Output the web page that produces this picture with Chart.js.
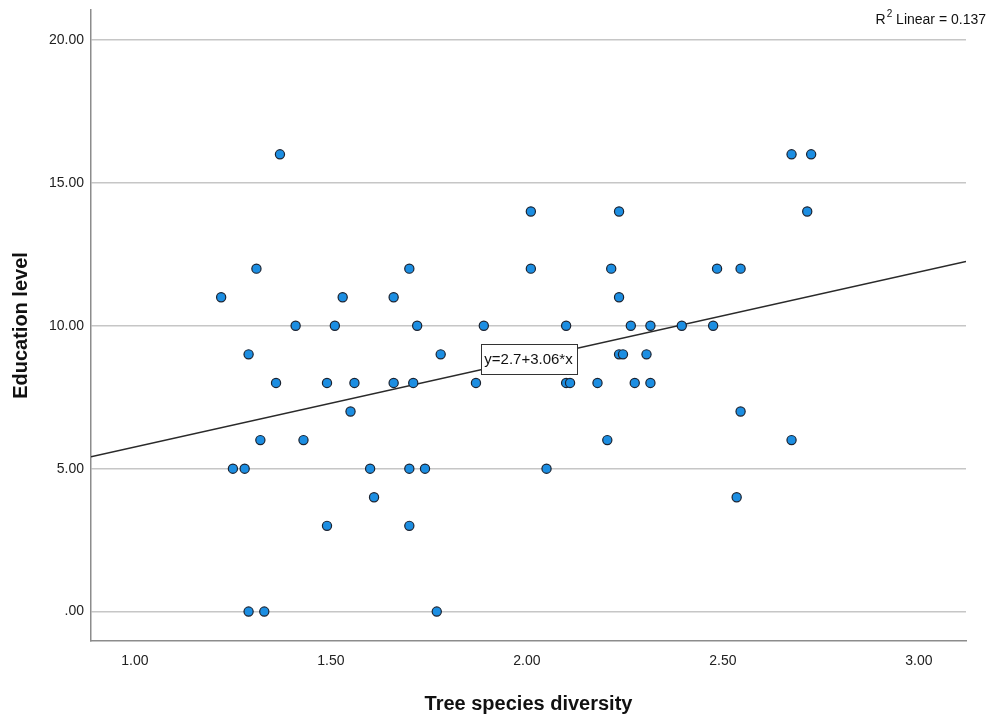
<!DOCTYPE html>
<html>
<head>
<meta charset="utf-8">
<title>Tree species diversity vs Education level</title>
<script src="https://cdn.jsdelivr.net/npm/chart.js@4.4.1/dist/chart.umd.min.js"></script>
<style>
    body { margin: 0; background: #ffffff; }
    #myChart { display: block; }
</style>
</head>
<body>
<canvas id="myChart" width="989" height="717"></canvas>
<script>

// valores (diversidad, nivel educativo)
var diversity = [
    1.37, 2.675, 2.725,
    2.01, 2.235, 2.715,
    1.31, 1.70, 2.01, 2.215, 2.485, 2.545,
    1.22, 1.53, 1.66, 2.235,
    1.41, 1.51, 1.72, 1.89, 2.10, 2.265, 2.315, 2.395, 2.475,
    1.29, 1.78, 2.235, 2.245, 2.305,
    1.36, 1.49, 1.56, 1.66, 1.71, 1.87, 2.10, 2.11, 2.18, 2.275, 2.315,
    1.55, 2.545,
    1.32, 1.43, 2.205, 2.675,
    1.25, 1.28, 1.60, 1.70, 1.74, 2.05,
    1.61, 2.535,
    1.49, 1.70,
    1.29, 1.33, 1.77
];
var education = [
    16, 16, 16,
    14, 14, 14,
    12, 12, 12, 12, 12, 12,
    11, 11, 11, 11,
    10, 10, 10, 10, 10, 10, 10, 10, 10,
    9, 9, 9, 9, 9,
    8, 8, 8, 8, 8, 8, 8, 8, 8, 8, 8,
    7, 7,
    6, 6, 6, 6,
    5, 5, 5, 5, 5, 5,
    4, 4,
    3, 3,
    0, 0, 0
];

var xTicks = [1.0, 1.5, 2.0, 2.5, 3.0];
var yTicks = [0, 5, 10, 15, 20];
var xRange = [0.888, 3.12];
var yRange = [-1.03, 21.05];

// recta de ajuste
var intercept = 2.7;
var slope = 3.06;
var rSquared = 0.137;

var fuente = '"Liberation Sans", Arial, sans-serif';

function formatoTick(v) {
    if (v === 0) return '.00';
    return v.toFixed(2);
}

function procesaData() {

    var puntos = [];
    for (var i = 0; i < diversity.length; i++) {
        puntos.push({ x: diversity[i], y: education[i] });
    }

    var recta = [
        { x: xRange[0], y: intercept + slope * xRange[0] },
        { x: xRange[1], y: intercept + slope * xRange[1] }
    ];

    var etiquetas = {
        id: 'etiquetas',
        afterDatasetsDraw: function (chart) {
            var ctx = chart.ctx;
            var area = chart.chartArea;
            var sx = chart.scales.x;
            var sy = chart.scales.y;

            // caja con la ecuacion, centrada sobre la recta
            var xc = (area.left + area.right) / 2;
            var yc = sy.getPixelForValue(intercept + slope * sx.getValueForPixel(xc));
            var texto = 'y=' + intercept + '+' + slope.toFixed(2) + '*x';
            ctx.save();
            ctx.font = '15px ' + fuente;
            var w = Math.round(ctx.measureText(texto).width + 8);
            var h = 30;
            var bx = Math.round(xc - w / 2);
            var by = Math.round(yc - h / 2);
            ctx.fillStyle = '#ffffff';
            ctx.fillRect(bx, by, w, h);
            ctx.strokeStyle = '#333333';
            ctx.lineWidth = 1;
            ctx.strokeRect(bx + 0.5, by + 0.5, w, h);
            ctx.fillStyle = '#111111';
            ctx.textAlign = 'center';
            ctx.textBaseline = 'middle';
            ctx.fillText(texto, xc, yc + 1);

            // R2 arriba a la derecha
            var resto = ' Linear = ' + rSquared.toFixed(3);
            ctx.textAlign = 'left';
            ctx.textBaseline = 'alphabetic';
            ctx.font = '14px ' + fuente;
            var wResto = ctx.measureText(resto).width;
            var wR = ctx.measureText('R').width;
            ctx.font = '10px ' + fuente;
            var w2 = ctx.measureText('2').width;
            var xEnd = 986;
            var x0 = xEnd - wResto - w2 - wR - 1;
            ctx.font = '14px ' + fuente;
            ctx.fillText('R', x0, 24);
            ctx.font = '10px ' + fuente;
            ctx.fillText('2', x0 + wR + 1, 17);
            ctx.font = '14px ' + fuente;
            ctx.fillText(resto, x0 + wR + w2 + 1, 24);
            ctx.restore();
        }
    };

    var ctx = document.getElementById('myChart');

    new Chart(ctx, {
        data: {
            datasets: [{
                type: 'scatter',
                label: 'Education level',
                data: puntos,
                backgroundColor: '#1c8ee2',
                borderColor: '#1b2331',
                borderWidth: 1.2,
                pointRadius: 4.6,
                order: 0
            }, {
                type: 'line',
                label: 'Linear',
                data: recta,
                borderColor: '#2a2a2a',
                borderWidth: 1.5,
                pointRadius: 0,
                fill: false,
                order: 1
            }]
        },
        options: {
            responsive: false,
            animation: false,
            devicePixelRatio: 1,
            layout: {
                padding: { top: 10, right: 23, left: 0, bottom: 0 }
            },
            plugins: {
                legend: { display: false },
                tooltip: { enabled: false }
            },
            scales: {
                x: {
                    type: 'linear',
                    min: xRange[0],
                    max: xRange[1],
                    afterBuildTicks: function (scale) {
                        scale.ticks = xTicks.map(function (v) { return { value: v }; });
                    },
                    afterFit: function (scale) {
                        scale.height = 76;
                        scale.paddingLeft = 0;
                        scale.paddingRight = 0;
                    },
                    grid: { display: false, drawTicks: false },
                    border: { display: true, color: '#8c8c8c', width: 1.5 },
                    ticks: {
                        padding: 12,
                        color: '#222222',
                        font: { family: fuente, size: 14 },
                        callback: function (v) { return formatoTick(v); }
                    },
                    title: {
                        display: true,
                        text: 'Tree species diversity',
                        color: '#111111',
                        font: { family: fuente, size: 20, weight: 'bold' },
                        padding: { bottom: 1 }
                    }
                },
                y: {
                    type: 'linear',
                    min: yRange[0],
                    max: yRange[1],
                    afterBuildTicks: function (scale) {
                        scale.ticks = yTicks.map(function (v) { return { value: v }; });
                    },
                    afterFit: function (scale) {
                        scale.width = 91;
                        scale.paddingTop = 0;
                        scale.paddingBottom = 0;
                    },
                    grid: { color: '#c6c6c6', lineWidth: 1.5, drawTicks: false },
                    border: { display: true, color: '#8c8c8c', width: 1.5 },
                    ticks: {
                        padding: 7,
                        color: '#222222',
                        font: { family: fuente, size: 14 },
                        callback: function (v) { return formatoTick(v); }
                    },
                    title: {
                        display: true,
                        text: 'Education level',
                        color: '#111111',
                        font: { family: fuente, size: 20, weight: 'bold' },
                        padding: { top: 9 }
                    }
                }
            }
        },
        plugins: [etiquetas]
    });
}

procesaData();

</script>
</body>
</html>
